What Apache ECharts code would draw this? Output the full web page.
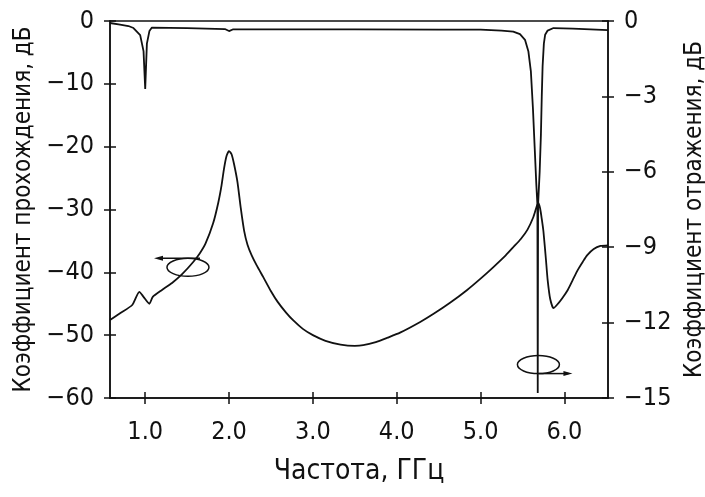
<!DOCTYPE html>
<html>
<head>
<meta charset="utf-8">
<script src="https://cdn.jsdelivr.net/npm/echarts@6/dist/echarts.min.js"></script>
<style>
  html, body { margin: 0; background: #fff; }
  #main { width: 705px; height: 497px; }
</style>
</head>
<body>
<div id="main"></div>
<script>
// frequency ticks, GHz
var freqTicks = [1, 2, 3, 4, 5, 6];

// transmission coefficient, dB (left axis)
var transmission = [
  [0.58, -47.6], [0.70, -46.5], [0.845, -45.2], [0.93, -43.1], [0.98, -43.9],
  [1.05, -45.0], [1.09, -43.9], [1.20, -42.8], [1.32, -41.7], [1.44, -40.3],
  [1.57, -38.4], [1.65, -37.0], [1.72, -35.4], [1.81, -32.2], [1.87, -29.0],
  [1.91, -26.2], [1.94, -23.5], [1.97, -21.5], [2.00, -20.7], [2.03, -21.2],
  [2.06, -22.8], [2.10, -25.6], [2.14, -29.8], [2.18, -33.4], [2.22, -35.6],
  [2.27, -37.3], [2.33, -38.9], [2.41, -40.8], [2.50, -43.0], [2.58, -44.7],
  [2.68, -46.4], [2.77, -47.7], [2.88, -49.0], [3.00, -50.0], [3.15, -50.9],
  [3.33, -51.5], [3.50, -51.7], [3.60, -51.6], [3.75, -51.1], [3.89, -50.4],
  [4.04, -49.6], [4.28, -47.9], [4.44, -46.6], [4.64, -44.8], [4.84, -42.8],
  [5.00, -41.0], [5.15, -39.2], [5.30, -37.3], [5.39, -36.0], [5.48, -34.7],
  [5.56, -33.2], [5.63, -31.2], [5.67, -29.5], [5.69, -29.0], [5.71, -29.8],
  [5.73, -31.5], [5.75, -33.5], [5.78, -38.0], [5.80, -41.2], [5.83, -44.2],
  [5.87, -45.7], [5.91, -45.2], [5.97, -44.2], [6.04, -42.8], [6.10, -41.2],
  [6.16, -39.6], [6.22, -38.3], [6.27, -37.3], [6.35, -36.3], [6.43, -35.8],
  [6.52, -35.7]
];

// reflection coefficient, dB (right axis)
var reflection = [
  [0.58, -0.08], [0.70, -0.14], [0.80, -0.2], [0.86, -0.28], [0.94, -0.56],
  [0.98, -1.2], [1.00, -2.7], [1.02, -0.9], [1.05, -0.4], [1.08, -0.26],
  [1.50, -0.28], [1.95, -0.32], [2.00, -0.40], [2.05, -0.33], [2.50, -0.33],
  [3.50, -0.33], [4.50, -0.34], [5.00, -0.34], [5.25, -0.38], [5.39, -0.42],
  [5.47, -0.52], [5.53, -0.75], [5.57, -1.2], [5.60, -2.0], [5.625, -3.5],
  [5.645, -5.0], [5.665, -6.5], [5.678, -7.3], [5.682, -14.8], [5.686, -7.3],
  [5.705, -6.0], [5.72, -4.5], [5.73, -3.0], [5.74, -1.8], [5.755, -0.9],
  [5.77, -0.55], [5.80, -0.38], [5.87, -0.28], [6.10, -0.30], [6.52, -0.36]
];

// where the ellipse markers sit (freq, dB on own axis)
var leftMarker = [1.51, -39.2];
var rightMarker = [5.69, -13.67];

var font = "'DejaVu Sans Condensed', 'Liberation Sans Narrow', sans-serif";
var ink = '#111';

function minus(v) {
  return v < 0 ? '\u2212' + Math.abs(v) : String(v);
}

var axisLine = { show: true, onZero: false, lineStyle: { color: ink, width: 1.5 } };
var tickStyle = { color: ink, width: 1.5 };

var chart = echarts.init(document.getElementById('main'));
chart.setOption({
  animation: false,
  backgroundColor: '#fff',
  grid: { left: 110, right: 97, top: 21, bottom: 99, outerBoundsMode: 'none', containLabel: false },
  xAxis: [
    {
      type: 'value', min: 0.58, max: 6.52, position: 'bottom',
      axisLine: axisLine,
      axisTick: { customValues: freqTicks, length: 6, lineStyle: tickStyle },
      axisLabel: {
        customValues: freqTicks, formatter: function (v) { return v.toFixed(1); },
        fontSize: 25, color: ink, fontFamily: font, margin: 22
      },
      splitLine: { show: false },
      name: 'Частота, ГГц', nameLocation: 'middle', nameGap: 60,
      nameTextStyle: { fontSize: 28, color: ink, fontFamily: font }
    },
    {
      type: 'value', min: 0.58, max: 6.52, position: 'bottom',
      axisLine: axisLine,
      axisTick: { customValues: freqTicks, inside: true, length: 6, lineStyle: tickStyle },
      axisLabel: { show: false }, splitLine: { show: false }
    },
    {
      type: 'value', min: 0.58, max: 6.52, position: 'top',
      axisLine: axisLine, axisTick: { show: false },
      axisLabel: { show: false }, splitLine: { show: false }
    }
  ],
  yAxis: [
    {
      type: 'value', min: -60, max: 0, interval: 10, position: 'left',
      axisLine: axisLine,
      axisTick: { length: 6, lineStyle: tickStyle },
      axisLabel: { formatter: minus, fontSize: 25, color: ink, fontFamily: font, margin: 16 },
      splitLine: { show: false },
      name: 'Коэффициент прохождения, дБ', nameLocation: 'middle', nameGap: 70, nameRotate: 90,
      nameTextStyle: { fontSize: 24, color: ink, fontFamily: font }
    },
    {
      type: 'value', min: -15, max: 0, interval: 3, position: 'right',
      axisLine: axisLine,
      axisTick: { length: 6, lineStyle: tickStyle },
      axisLabel: { formatter: minus, fontSize: 25, color: ink, fontFamily: font, margin: 16 },
      splitLine: { show: false },
      name: 'Коэффициент отражения, дБ', nameLocation: 'middle', nameGap: 66, nameRotate: 90,
      nameTextStyle: { fontSize: 24, color: ink, fontFamily: font }
    },
    {
      type: 'value', min: -60, max: 0, interval: 10, position: 'left',
      axisLine: axisLine,
      axisTick: { inside: true, length: 6, lineStyle: tickStyle },
      axisLabel: { show: false }, splitLine: { show: false }
    },
    {
      type: 'value', min: -15, max: 0, interval: 3, position: 'right',
      axisLine: axisLine,
      axisTick: { inside: true, length: 6, lineStyle: tickStyle },
      axisLabel: { show: false }, splitLine: { show: false }
    }
  ],
  series: [
    {
      name: 'transmission', type: 'line', xAxisIndex: 0, yAxisIndex: 0,
      data: transmission, showSymbol: false, smooth: 0.2,
      lineStyle: { color: ink, width: 1.8 }
    },
    {
      name: 'reflection', type: 'line', xAxisIndex: 0, yAxisIndex: 1,
      data: reflection, showSymbol: false,
      lineStyle: { color: ink, width: 1.8 }
    }
  ]
});

// ellipse markers with arrows pointing to the axis each curve belongs to
var pL = chart.convertToPixel({ xAxisIndex: 0, yAxisIndex: 0 }, leftMarker);
var pR = chart.convertToPixel({ xAxisIndex: 0, yAxisIndex: 1 }, rightMarker);
var st = { stroke: ink, lineWidth: 1.5, fill: null };
chart.setOption({
  graphic: [
    { type: 'ellipse', shape: { cx: pL[0], cy: pL[1], rx: 21, ry: 9 }, style: st },
    { type: 'line', shape: { x1: pL[0] + 12, y1: pL[1] - 9, x2: pL[0] - 30, y2: pL[1] - 9 }, style: st },
    { type: 'polygon', shape: { points: [[pL[0] - 34, pL[1] - 9], [pL[0] - 25, pL[1] - 11.5], [pL[0] - 25, pL[1] - 6.5]] }, style: { fill: ink } },
    { type: 'ellipse', shape: { cx: pR[0], cy: pR[1], rx: 21, ry: 9 }, style: st },
    { type: 'line', shape: { x1: pR[0], y1: pR[1] + 9, x2: pR[0] + 30, y2: pR[1] + 9 }, style: st },
    { type: 'polygon', shape: { points: [[pR[0] + 34, pR[1] + 9], [pR[0] + 25, pR[1] + 6.5], [pR[0] + 25, pR[1] + 11.5]] }, style: { fill: ink } }
  ]
});
</script>
</body>
</html>
